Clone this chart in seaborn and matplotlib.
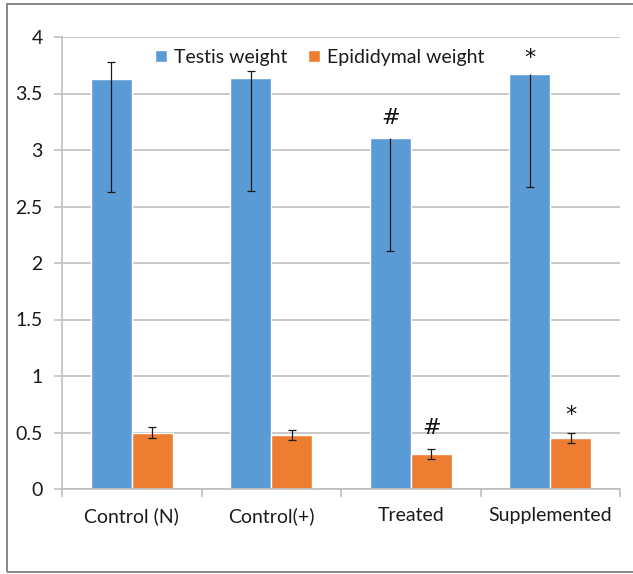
import matplotlib
matplotlib.use("Agg")
import matplotlib.pyplot as plt
from matplotlib.patches import Rectangle
import numpy as np
import pandas as pd
import seaborn as sns

# Group labels and the two measured series
groups = ["Control (N)", "Control(+)", "Treated", "Supplemented"]
series = ["Testis weight", "Epididymal weight"]
testis = [3.63, 3.64, 3.11, 3.67]
epididymal = [0.50, 0.48, 0.31, 0.45]

# Error bar extents (lower, upper) for each series
testis_err_low = [1.00, 1.00, 1.00, 1.00]
testis_err_high = [0.15, 0.06, 0.00, 0.00]
epi_err_low = [0.045, 0.045, 0.045, 0.045]
epi_err_high = [0.045, 0.045, 0.045, 0.045]

# Significance marks per bar
testis_marks = ["", "", "#", "*"]
epi_marks = ["", "", "#", "*"]

colors = ["#5B9BD5", "#ED7D31"]

sns.set_theme(style="white")
plt.rcParams["font.family"] = ["Lato", "DejaVu Sans"]

df = pd.DataFrame({
    "group": groups * 2,
    "series": [series[0]] * 4 + [series[1]] * 4,
    "value": testis + epididymal,
})

fig = plt.figure(figsize=(6.33, 5.74), dpi=100)
ax = fig.add_axes([62 / 633, 1 - 489 / 574, (620 - 62) / 633, (489 - 37) / 574])

sns.barplot(data=df, x="group", y="value", hue="series", order=groups,
            hue_order=series, palette=colors, width=0.588, gap=0,
            errorbar=None, saturation=1, ax=ax, zorder=2)

# Error bars and marks, placed on each drawn bar
bars = [p for p in ax.patches if p.get_width() > 0][:8]
values = testis + epididymal
lows = testis_err_low + epi_err_low
highs = testis_err_high + epi_err_high
marks = testis_marks + epi_marks
mark_offsets = [14, 14, 14, 12, 19, 19, 19, 17]
for i, p in enumerate(bars):
    xc = p.get_x() + p.get_width() / 2
    _, caps, _ = ax.errorbar(xc, values[i], yerr=[[lows[i]], [highs[i]]],
                             fmt="none", ecolor="#1a1a1a", elinewidth=0.9,
                             capsize=2.6, capthick=0.9, zorder=3)
    if highs[i] == 0 and len(caps) > 1:
        caps[1].set_visible(False)
    if marks[i]:
        ax.annotate(marks[i], (xc, values[i]), xytext=(0, mark_offsets[i]),
                    textcoords="offset points", ha="center", va="center",
                    fontsize=16, color="#111111", family=["DejaVu Sans"])

ax.set_ylim(0, 4)
ax.set_yticks(np.arange(0, 4.01, 0.5))
ax.set_yticklabels(["0", "0.5", "1", "1.5", "2", "2.5", "3", "3.5", "4"])
ax.set_xlim(-0.5, 3.5)
ax.set_xlabel("")
ax.set_ylabel("")

ax.yaxis.grid(True, color="#BFBFBF", linewidth=1.2, zorder=0)
ax.set_axisbelow(True)
for s in ["top", "right"]:
    ax.spines[s].set_visible(False)
for s in ["left", "bottom"]:
    ax.spines[s].set_color("#BFBFBF")
    ax.spines[s].set_linewidth(1.2)

# Category dividers as x tick marks, labels at category centres
ax.set_xticks(np.arange(-0.5, 3.6, 1.0))
ax.set_xticklabels([""] * 5)
ax.set_xticks(np.arange(0, 4), minor=True)
ax.set_xticklabels(groups, minor=True)
ax.tick_params(axis="x", which="major", length=6, width=1.2, color="#BFBFBF",
               direction="out", bottom=True)
ax.tick_params(axis="x", which="minor", length=0, pad=13, labelsize=14,
               labelcolor="#1a1a1a")
ax.tick_params(axis="y", length=6, width=1.2, color="#BFBFBF", direction="out",
               left=True, pad=8, labelsize=14, labelcolor="#1a1a1a")

leg = ax.legend(loc="upper center", bbox_to_anchor=(0.462, 1.0), ncol=2,
                frameon=False, fontsize=14, handlelength=0.6,
                handleheight=0.6, handletextpad=0.35, columnspacing=1.1,
                borderaxespad=0.2)
for t in leg.get_texts():
    t.set_color("#1a1a1a")

# Outer frame around the chart
fig.patches.append(Rectangle((7 / 633, 2 / 574), 640 / 633, 568 / 574,
                             transform=fig.transFigure, fill=False,
                             edgecolor="#7F7F7F", linewidth=1.3))

fig.savefig("out.png", dpi=100)
